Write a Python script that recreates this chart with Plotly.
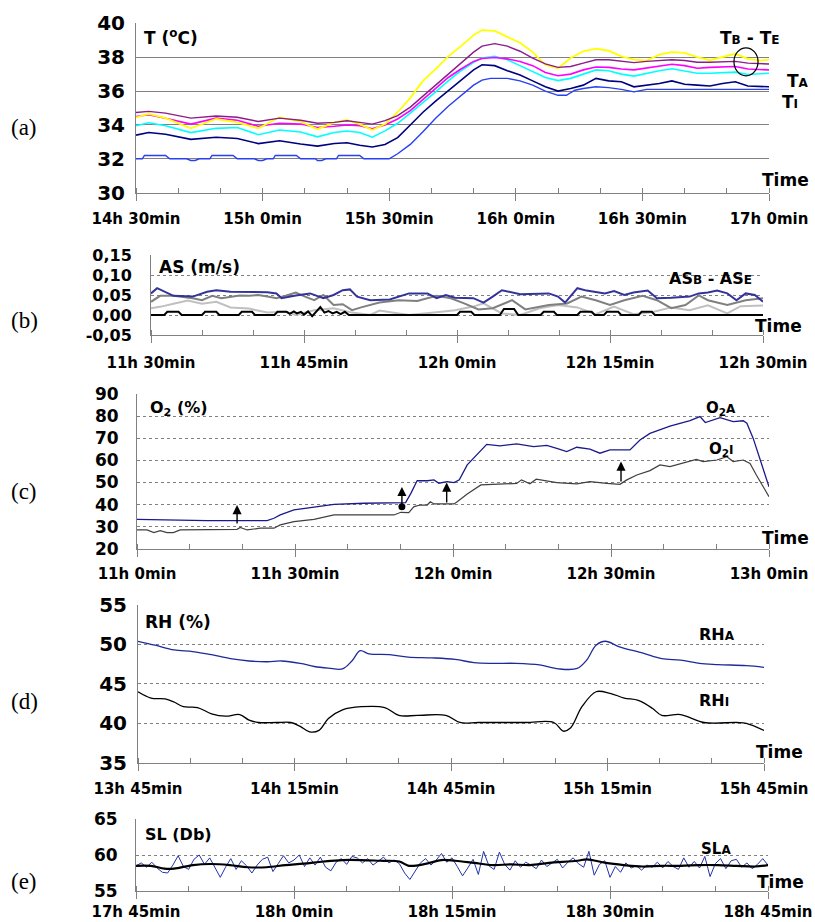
import plotly.graph_objects as go

# the page body margin is removed (post_script below), so the figure fills the 815x922 window
OFF = 0
W, H = 815 - OFF, 922 - OFF

# ---------------- Panel (a): temperatures ----------------
a_ticks = [0, 30, 60, 90, 120, 150]
a_ticktext = ["14h 30min", "15h 0min", "15h 30min", "16h 0min", "16h 30min", "17h 0min"]
a_yticks = [30, 32, 34, 36, 38, 40]
t_a = [0, 3, 7, 13, 19, 24, 29, 34, 39, 43, 47, 50, 53, 56, 59, 62, 65, 68, 71, 74,
       77, 80, 82, 85, 88, 91, 94, 97, 100, 103, 106, 109, 112, 115, 118, 121, 124, 127, 130, 133,
       136, 139, 142, 145, 148, 150]
t_yellow = [34.45, 34.65, 34.4, 33.8, 34.35, 34.15, 33.8, 34.45, 34.2, 33.75,
            34.15, 34.3, 34.05, 33.7, 34.05, 34.75, 35.6, 36.6, 37.3, 38.05,
            38.65, 39.3, 39.6, 39.55, 39.2, 38.85, 38.3, 37.55, 37.35, 37.95,
            38.35, 38.5, 38.38, 38.05, 37.85, 37.8, 38.15, 38.3, 38.25, 38.0,
            37.82, 38.0, 38.2, 37.9, 37.8, 37.85]
t_purple = [34.73, 34.8, 34.7, 34.4, 34.53, 34.45, 34.2, 34.4, 34.28, 34.1,
            34.15, 34.25, 34.15, 34.05, 34.25, 34.55, 35.05, 35.7, 36.35, 37.05,
            37.7, 38.3, 38.65, 38.8, 38.65, 38.35, 37.95, 37.6, 37.4, 37.45,
            37.65, 37.85, 37.85, 37.75, 37.68, 37.75, 37.8, 37.85, 37.8, 37.7,
            37.7, 37.72, 37.75, 37.65, 37.6, 37.6]
t_magenta = [34.5, 34.6, 34.4, 34.05, 34.4, 34.28, 33.92, 34.1, 34.05, 33.85,
             33.92, 34.0, 33.95, 33.78, 34.0, 34.35, 34.85, 35.5, 36.15, 36.8,
             37.3, 37.75, 37.92, 37.98, 37.9, 37.75, 37.5, 37.1, 36.9, 37.0,
             37.25, 37.42, 37.4, 37.3, 37.25, 37.35, 37.48, 37.58, 37.5, 37.35,
             37.4, 37.42, 37.45, 37.3, 37.25, 37.25]
t_cyan = [33.95, 34.13, 33.95, 33.55, 33.8, 33.85, 33.42, 33.7, 33.58, 33.3,
          33.55, 33.64, 33.55, 33.28, 33.65, 34.1, 34.7, 35.3, 35.95, 36.6,
          37.2, 37.7, 37.95, 38.05, 37.85, 37.5, 37.15, 36.8, 36.62, 36.75,
          37.0, 37.25, 37.2, 37.0, 36.88, 37.05, 37.2, 37.32, 37.2, 37.05,
          37.05, 37.1, 37.12, 36.98, 37.0, 37.05]
t_navy = [33.4, 33.55, 33.45, 33.15, 33.27, 33.2, 32.9, 33.07, 32.87, 32.75,
          32.9, 32.95, 32.8, 32.7, 32.85, 33.25, 34.0, 34.75, 35.4, 36.0,
          36.6, 37.25, 37.55, 37.5, 37.2, 36.95, 36.6, 36.25, 36.0, 36.15,
          36.35, 36.75, 36.6, 36.55, 36.25, 36.35, 36.45, 36.6, 36.4, 36.35,
          36.3, 36.45, 36.55, 36.3, 36.25, 36.25]
t_ti = [0, 1.5, 2, 7, 8, 12, 13, 14, 15, 17.5, 18, 23, 24, 28, 29, 30, 31, 32.5, 33, 38,
        39, 42.5, 43, 44, 45, 47.5, 48, 53, 54, 60, 62, 65, 68, 71, 74, 77, 80, 82, 84, 88,
        91, 94, 97, 100, 102, 104, 106, 109, 112, 115, 118, 121, 150]
v_ti = [32.0, 32.0, 32.2, 32.2, 32.0, 32.0, 31.9, 31.9, 32.0, 32.0,
        32.2, 32.2, 32.0, 32.0, 31.9, 31.9, 32.0, 32.0, 32.2, 32.2,
        32.0, 32.0, 31.9, 31.9, 32.0, 32.0, 32.2, 32.2, 32.0, 32.0,
        32.3, 32.85, 33.6, 34.4, 35.1, 35.75, 36.35, 36.65, 36.75, 36.75,
        36.6, 36.35, 36.0, 35.75, 35.75, 36.05, 36.15, 36.25, 36.2, 36.1,
        35.95, 36.1, 36.1]

# ---------------- Panel (b): air speed ----------------
b_ticks = [0, 15, 30, 45, 60]
b_ticktext = ["11h 30min", "11h 45min", "12h 0min", "12h 15min", "12h 30min"]
b_yticks = [-0.05, 0.0, 0.05, 0.10, 0.15]
b_yticktext = ["-0,05", "0,00", "0,05", "0,10", "0,15"]
t_as_blue = [0, 0.6, 2.2, 4.1, 5.5, 6.4, 7.8, 9.6, 11.4, 12.3, 12.8, 14.2, 15.6, 16.9, 17.9, 18.8,
             19.5, 20.2, 21.5, 23.4, 25.3, 27.1, 28, 28.9, 29.8, 31.6, 32.6, 33.5, 34.4, 36.2,
             38.1, 39, 39.9, 40.6, 41.8, 42.7, 44.5, 45.4, 46.4, 47.3, 48.7, 49.6, 51, 52.8,
             53.7, 54.6, 55.5, 56.5, 57.4, 58.3, 59.2, 60]
v_as_blue = [0.054, 0.067, 0.048, 0.046, 0.058, 0.062, 0.058, 0.057, 0.057, 0.054,
             0.042, 0.049, 0.054, 0.042, 0.05, 0.062, 0.064, 0.046, 0.037, 0.039,
             0.054, 0.054, 0.042, 0.05, 0.043, 0.042, 0.031, 0.046, 0.062, 0.052,
             0.054, 0.054, 0.046, 0.031, 0.067, 0.061, 0.054, 0.06, 0.05, 0.056,
             0.061, 0.042, 0.043, 0.046, 0.054, 0.056, 0.061, 0.054, 0.037, 0.054,
             0.05, 0.033]
t_as_dgray = [0, 0.9, 2.2, 4.1, 5, 6, 6.9, 8.7, 9.6, 10.5, 11.4, 12.3, 13.2, 14.2, 15.1, 16,
              16.9, 17.9, 18.8, 19.7, 20.6, 22.4, 24.3, 26.1, 28, 29.4, 30.7, 32.1, 33.5, 34.4,
              35.4, 36.7, 38.1, 39, 40.8, 42.2, 43.6, 45, 46.4, 48.2, 49.6, 51, 52.4, 53.7,
              54.6, 56.5, 58.3, 60]
v_as_dgray = [0.033, 0.048, 0.048, 0.042, 0.037, 0.048, 0.042, 0.049, 0.048, 0.05,
              0.046, 0.042, 0.048, 0.056, 0.046, 0.037, 0.05, 0.025, 0.027, 0.012,
              0.019, 0.031, 0.037, 0.035, 0.048, 0.042, 0.029, 0.014, 0.017, 0.027,
              0.037, 0.014, 0.021, 0.025, 0.029, 0.046, 0.037, 0.025, 0.037, 0.048,
              0.037, 0.017, 0.025, 0.049, 0.037, 0.025, 0.037, 0.042]
t_as_lgray = [0, 1, 2.2, 3.6, 5, 6.4, 7.8, 9.6, 11.4, 13.2, 14.2, 16, 17.9, 19.7, 21.5, 22.4,
              24.3, 25.3, 28, 29.8, 31.6, 32.6, 34.4, 36.2, 38.1, 39.9, 41.8, 43.6, 45.4, 47.3,
              49.1, 51, 52.8, 54.6, 56.5, 57.8, 60]
v_as_lgray = [0.017, 0.021, 0.028, 0.036, 0.028, 0.033, 0.019, 0.016, 0.006, 0.008,
              0.0, 0.012, 0.017, 0.006, 0.0, 0.011, 0.004, 0.0, 0.007, 0.012,
              0.021, 0.029, 0.004, 0.0, 0.017, 0.025, 0.019, 0.002, 0.021, 0.002,
              0.007, 0.019, 0.012, 0.024, 0.004, 0.022, 0.024]
t_as_black = [0, 1.3, 1.6, 2.7, 3.0, 5.0, 5.3, 6.4, 6.7, 8.6, 8.9, 9.9, 10.2, 12.1, 12.4, 13.3,
              13.6, 14.0, 14.3, 14.7, 15.0, 15.4, 15.8, 16.2, 16.6, 17.0, 17.4, 17.8, 18.2,
              18.6, 19.0, 19.4, 30.0, 30.3, 31.4, 31.7, 34.2, 34.6, 35.6, 36.0, 38.2, 38.5,
              39.5, 39.8, 41.8, 42.1, 43.2, 43.5, 44.4, 44.7, 45.8, 46.1, 47.8, 48.1, 49.1,
              49.4, 60]
v_as_black = [0, 0, 0.008, 0.008, 0, 0, 0.008, 0.008, 0, 0, 0.008, 0.008, 0, 0, 0.008, 0.008,
              0.003, 0.009, 0.004, 0.008, 0.001, 0.009, -0.003, 0.01, 0.02, 0.006, 0.01, 0.004,
              0.008, 0.002, 0.008, 0, 0, 0.008, 0.008, 0, 0, 0.015, 0.015, 0, 0, 0.008,
              0.008, 0, 0, 0.008, 0.008, 0, 0, 0.008, 0.008, 0, 0, 0.008, 0.008,
              0, 0]

# ---------------- Panel (c): O2 ----------------
c_ticks = [0, 30, 60, 90, 120]
c_ticktext = ["11h 0min", "11h 30min", "12h 0min", "12h 30min", "13h 0min"]
c_yticks = [20, 30, 40, 50, 60, 70, 80, 90]
t_o2a = [0, 8.2, 10.1, 13.3, 19, 24.7, 26, 27.2, 29.8, 33.6, 37.4, 43.1, 50.1, 51, 52, 53.2,
         55.1, 56.4, 57.3, 58.9, 60.2, 61.2, 62.7, 65.3, 66.4, 68.9, 72.1, 75.3, 77.8, 79.7,
         81.6, 83.5, 86, 87.9, 89.8, 92.4, 93.6, 95.5, 97.4, 101.2, 105, 106.9, 107.9, 110.7,
         113.2, 115.1, 115.8, 117, 118.9, 120]
v_o2a = [33.3, 33, 32.6, 32.7, 32.7, 32.7, 33.8, 35.3, 37.6, 38.8,
         40.1, 40.6, 40.9, 40.9, 45.1, 50.9, 50.8, 51.2, 49.7, 50.4,
         50, 51.2, 58, 64.5, 67.3, 66.6, 67.5, 66.3, 66.8, 65.5,
         64, 66, 65.1, 63.3, 64.8, 64.8, 64.8, 69.3, 72.3, 75.6,
         78.1, 79.9, 77.2, 79.4, 77.6, 78, 76.9, 70, 55.7, 48.1]
t_o2i = [0, 1.9, 3.2, 4.4, 5.7, 6.9, 8.2, 19, 19.6, 20.9, 23.4, 26, 27.2, 29.8, 33.6, 37.4,
         48.8, 50.1, 51.6, 52.6, 53.8, 55.1, 55.7, 56.4, 58.9, 60.2, 60.8, 62.7, 65.3, 70.1,
         72.1, 73, 74.6, 75.8, 77.8, 79.7, 83.5, 86, 89.2, 91.7, 93, 94.9, 97.4, 99.3, 101.2,
         103.7, 106.2, 107.5, 110.1, 112, 113.2, 115.1, 116.4, 117.6, 120]
v_o2i = [28.5, 28.5, 27.3, 28.2, 27.3, 27.3, 28.5, 28.8, 29.6, 28.5,
         29.3, 29.3, 30.8, 32.3, 33.3, 35.3, 35.3, 36.5, 36.4, 39.1,
         39.8, 39.8, 41.3, 40.3, 40.3, 40.3, 41.3, 44.8, 48.9, 49.6,
         49.6, 51.2, 49.4, 51.5, 50.9, 50, 49.4, 50.4, 49.6, 49.2,
         51.2, 53.4, 55.4, 58, 57.2, 58.7, 60.5, 59.5, 60.2, 61.7,
         59.5, 60.2, 58.7, 53.4, 43.6]
arrow_t = [19, 50.3, 58.8, 91.9]
arrow_from = [30.8, 39.0, 40.3, 49.8]
arrow_to = [39.8, 48.0, 50.0, 59.5]

# ---------------- Panel (d): relative humidity ----------------
d_ticks = [0, 30, 60, 90, 120]
d_ticktext = ["13h 45min", "14h 15min", "14h 45min", "15h 15min", "15h 45min"]
d_yticks = [35, 40, 45, 50, 55]
t_rha = [0, 3.3, 6.9, 10.5, 14.1, 17.7, 21.3, 24.8, 27.5, 31.1, 33.8, 36.5, 39.2, 41, 42.6,
         44.3, 48.2, 51.8, 56.3, 60.8, 64.4, 68, 72.5, 77, 80.6, 84.2, 86, 87.8, 89.6, 92.3,
         96.8, 100.4, 104, 107.6, 111.2, 116.6, 120]
v_rha = [50.4, 49.9, 49.3, 49.1, 48.7, 48.2, 47.9, 47.8, 47.9, 47.6,
         47.2, 47.0, 46.9, 47.9, 49.2, 48.8, 48.7, 48.4, 48.3, 48.1,
         47.7, 47.6, 47.6, 47.4, 46.9, 46.95, 48.0, 49.9, 50.4, 49.7,
         48.9, 48.2, 48.0, 47.6, 47.45, 47.3, 47.1]
t_rhi = [0, 2.5, 5.2, 6.9, 8.7, 11.4, 14.1, 16.8, 19.5, 21.3, 23.1, 26.6, 29.3, 31.1, 32.9,
         34.7, 36.5, 39.2, 42.8, 47.3, 50, 53.6, 59, 61.7, 65.3, 74.3, 79.7, 81.5, 82.9, 85.1,
         87.8, 90.5, 93.2, 95.9, 98.6, 100.4, 104, 108.5, 114.8, 116.6, 120]
v_rhi = [44, 43.2, 43.1, 42.7, 42.1, 42.0, 41.2, 40.9, 41.1, 40.4,
         40.1, 40.1, 40.1, 39.6, 38.9, 39.1, 40.6, 41.7, 42.1, 42.0,
         41.0, 41.0, 41.0, 40.1, 40.1, 40.1, 40.1, 39.0, 39.4, 42.1,
         44.0, 43.8, 43.2, 42.9, 41.9, 41.0, 41.1, 40.1, 40.1, 40.0,
         39.1]

# ---------------- Panel (e): sound level ----------------
e_ticks = [0, 15, 30, 45, 60]
e_ticktext = ["17h 45min", "18h 0min", "18h 15min", "18h 30min", "18h 45min"]
e_yticks = [55, 60, 65]
sl_step = 0.5
sl_blue = [58.5, 58.9, 58.3, 59.0, 58.2, 57.6, 57.5, 58.6, 59.9, 58.4,
           58.0, 59.4, 60.0, 58.7, 59.6, 58.2, 56.9, 58.3, 59.5, 58.0,
           59.2, 58.5, 57.5, 58.6, 59.4, 59.7, 57.7, 58.8, 59.9, 58.9,
           59.3, 60.0, 58.4, 59.6, 58.6, 59.7, 58.3, 57.8, 59.0, 59.5,
           58.7, 59.8, 59.6, 58.9, 59.5, 58.6, 59.2, 59.7, 58.9, 59.3,
           58.8, 57.5, 56.6, 57.8, 58.9, 59.5, 58.6, 59.3, 60.2, 59.0,
           59.6, 58.4, 57.1, 58.2, 59.4, 57.3, 60.5, 58.5, 58.0, 60.4,
           58.7, 57.9, 59.2, 58.3, 59.0, 58.6, 58.1, 59.3, 58.4, 58.9,
           59.4, 58.2, 59.0, 59.6, 58.8, 58.3, 60.5, 57.2, 58.7, 59.2,
           56.9, 58.4, 57.6, 58.9, 58.2, 58.5, 57.9, 58.6, 58.3, 59.0,
           58.2, 59.1, 58.4, 58.0, 59.6, 58.3, 59.1, 58.2, 59.8, 57.0,
           58.8, 59.5, 58.1, 59.2, 59.4, 58.3, 58.9, 58.1, 58.7, 59.5,
           58.6]
t_sl_black = [0, 1.4, 2.7, 3.6, 5.4, 7.1, 8.9, 10.6, 12.4, 14.2, 15.9, 17.8, 19.6, 21.4, 23.2,
              25, 25.9, 27.6, 29, 30.3, 32.1, 33.9, 35.6, 37.4, 39.2, 41.9, 42.8, 44.6, 46.3,
              48.1, 49.9, 51.7, 53.5, 55.2, 57, 58.8, 60]
v_sl_black = [58.5, 58.5, 58.1, 58.1, 58.6, 58.75, 58.6, 58.3, 58.3, 58.6,
              58.8, 59.1, 59.3, 59.3, 59.2, 59.1, 58.5, 58.8, 59.3, 59.2,
              58.9, 58.6, 58.7, 58.6, 58.9, 59.2, 59.4, 58.9, 58.6, 58.4,
              58.5, 58.5, 58.6, 58.6, 58.5, 58.4, 58.6]

pairs = [(t_a, t_yellow), (t_a, t_purple), (t_a, t_magenta), (t_a, t_cyan), (t_a, t_navy),
         (t_ti, v_ti), (t_as_blue, v_as_blue), (t_as_dgray, v_as_dgray), (t_as_lgray, v_as_lgray),
         (t_as_black, v_as_black), (t_o2a, v_o2a), (t_o2i, v_o2i), (t_rha, v_rha),
         (t_rhi, v_rhi), (t_sl_black, v_sl_black)]
for i, (p, q) in enumerate(pairs):
    assert len(p) == len(q), (i, len(p), len(q))

t_sl = [i * sl_step for i in range(len(sl_blue))]

# ---------------- figure ----------------
BOLD = dict(family="DejaVu Sans", color="black", weight="bold")
AXC = "#808080"


def PX(p):
    return (p - OFF) / W


def PY(p):
    return 1 - (p - OFF) / H


fig = go.Figure()


def add(xs, ys, n, color, width, shape="linear"):
    fig.add_trace(go.Scatter(x=xs, y=ys, mode="lines", xaxis="x" + ("" if n == 1 else str(n)),
                             yaxis="y" + ("" if n == 1 else str(n)),
                             line=dict(color=color, width=width, shape=shape),
                             hoverinfo="skip"))


# panel a
add(t_ti, v_ti, 1, "#2840F0", 1.4)
add(t_a, t_navy, 1, "#000080", 1.6)
add(t_a, t_cyan, 1, "#00FFFF", 1.6)
add(t_a, t_magenta, 1, "#FF00FF", 1.6)
add(t_a, t_yellow, 1, "#FFFF00", 1.8)
add(t_a, t_purple, 1, "#8B1C8B", 1.4)
# panel b
add(t_as_lgray, v_as_lgray, 2, "#C0C0C0", 2)
add(t_as_dgray, v_as_dgray, 2, "#808080", 2)
add(t_as_black, v_as_black, 2, "#000000", 2)
add(t_as_blue, v_as_blue, 2, "#333399", 2)
# panel c
add(t_o2i, v_o2i, 3, "#404040", 1.2)
add(t_o2a, v_o2a, 3, "#1A1A8C", 1.3)
fig.add_trace(go.Scatter(x=[arrow_t[1]], y=[arrow_from[1]], mode="markers", xaxis="x3", yaxis="y3",
                         marker=dict(color="black", size=7), hoverinfo="skip"))
# panel d
add(t_rha, v_rha, 4, "#1F2A99", 1.3, "spline")
add(t_rhi, v_rhi, 4, "#000000", 1.3, "spline")
# panel e
add(t_sl, sl_blue, 5, "#2233AA", 1)
add(t_sl_black, v_sl_black, 5, "#000000", 2.2, "spline")

panels = [
    # xpix, ypix, xrange, yrange, xticks, xtext, minor, yticks, ytext, ysize, dash, xstandoff, ystandoff
    ((136, 769), (23.3, 192.7), (0, 150), (30, 40), a_ticks, a_ticktext, 10, a_yticks, None, 20, "solid", 5, 6),
    ((151, 763), (255, 335), (0, 60), (-0.05, 0.15), b_ticks, b_ticktext, 5, b_yticks, b_yticktext, 16, "dot", 7, 15),
    ((137, 769), (394.3, 548.7), (0, 120), (20, 90), c_ticks, c_ticktext, 10, c_yticks, None, 17, "dot", 4, 14),
    ((138, 764), (605, 762.7), (0, 120), (35, 55), d_ticks, d_ticktext, 10, d_yticks, None, 20, "dot", 5, 6),
    ((136, 768), (819, 891), (0, 60), (55, 65), e_ticks, e_ticktext, 5, e_yticks, None, 17, "dot", 0, 14),
]

lay = dict(width=W, height=H, margin=dict(l=0, r=0, t=0, b=0), paper_bgcolor="white",
           plot_bgcolor="white", showlegend=False, hovermode=False)
for i, (xp, yp, xr, yr, xt, xtt, mn, yt, ytt, ysz, dash, so, yso) in enumerate(panels, start=1):
    sfx = "" if i == 1 else str(i)
    lay["xaxis" + sfx] = dict(
        domain=[PX(xp[0]), PX(xp[1])], range=list(xr), anchor="y" + sfx,
        showline=True, linecolor=AXC, linewidth=1, showgrid=False, zeroline=False,
        tickmode="array", tickvals=xt, ticktext=xtt, ticks="outside", ticklen=7,
        tickcolor=AXC, tickwidth=1, tickfont=dict(size=15, **BOLD), ticklabelstandoff=so,
        ticklabeloverflow="allow",
        minor=dict(tickmode="linear", tick0=0, dtick=mn, ticks="inside", ticklen=5,
                   tickcolor=AXC, showgrid=False),
        automargin=False, fixedrange=True)
    ydict = dict(
        domain=[PY(yp[1]), PY(yp[0])], range=list(yr), anchor="x" + sfx,
        showline=True, linecolor=AXC, linewidth=1, showgrid=True, gridcolor=AXC,
        griddash=dash, gridwidth=1, zeroline=False, tickmode="array", tickvals=yt,
        ticks="", tickfont=dict(size=ysz, **BOLD), ticklabelstandoff=yso,
        ticklabeloverflow="allow", automargin=False, fixedrange=True)
    if ytt is not None:
        ydict["ticktext"] = ytt
    lay["yaxis" + sfx] = ydict
fig.update_layout(**lay)


def small(s, size):
    return "<span style='font-size:%dpx'>%s</span>" % (size, s)


texts = [
    ("T (<sup>o</sup>C)", 142, 37, "left", 17),
    ("T" + small("B", 12) + " - T" + small("E", 12), 749, 38, "center", 17),
    ("T" + small("A", 12), 785, 81, "left", 17),
    ("T" + small("I", 12), 780, 102, "left", 17),
    ("Time", 760, 180, "left", 17),
    ("AS (m/s)", 157, 267, "left", 17),
    ("AS" + small("B", 12) + " - AS" + small("E", 12), 667, 278, "left", 16),
    ("Time", 753, 326, "left", 17),
    ("O<sub>2</sub> (%)", 148, 408, "left", 16),
    ("O<sub>2</sub>" + small("A", 12), 704, 408, "left", 15),
    ("O<sub>2</sub>" + small("I", 12), 707, 449, "left", 15),
    ("Time", 760, 538, "left", 17),
    ("RH (%)", 143, 622, "left", 17),
    ("RH" + small("A", 12), 697, 634, "left", 16),
    ("RH" + small("I", 12), 697, 700, "left", 16),
    ("Time", 754, 752, "left", 17),
    ("SL (Db)", 143, 834, "left", 16),
    ("SL" + small("A", 12), 699, 849, "left", 15),
    ("Time", 755, 882, "left", 17),
]
ann = []
for txt, x, y, anc, sz in texts:
    ann.append(dict(text=txt, x=PX(x), y=PY(y), xref="paper", yref="paper",
                    xanchor=anc, yanchor="middle", showarrow=False,
                    font=dict(size=sz, **BOLD)))
for lab, y in [("(a)", 128), ("(b)", 320), ("(c)", 491), ("(d)", 701), ("(e)", 881)]:
    ann.append(dict(text=lab, x=PX(24), y=PY(y), xref="paper", yref="paper",
                    xanchor="center", yanchor="middle", showarrow=False,
                    font=dict(family="Liberation Serif", size=23, color="black")))
for xa, y0, y1 in zip(arrow_t, arrow_from, arrow_to):
    ann.append(dict(x=xa, y=y1, ax=xa, ay=y0, xref="x3", yref="y3", axref="x3", ayref="y3",
                    text="", showarrow=True, arrowhead=2, arrowsize=1.3, arrowwidth=1.4,
                    arrowcolor="black"))
fig.update_layout(annotations=ann)

fig.add_shape(type="circle", xref="x", yref="y", x0=141.7, x1=147.4, y0=36.9, y1=38.55,
              line=dict(color="black", width=1.2))

fig.write_html("out.html",
               config={"displayModeBar": False, "staticPlot": True},
               post_script="document.body.style.margin='0';"
                           "document.documentElement.style.overflow='hidden';"
                           "document.body.style.overflow='hidden';")
